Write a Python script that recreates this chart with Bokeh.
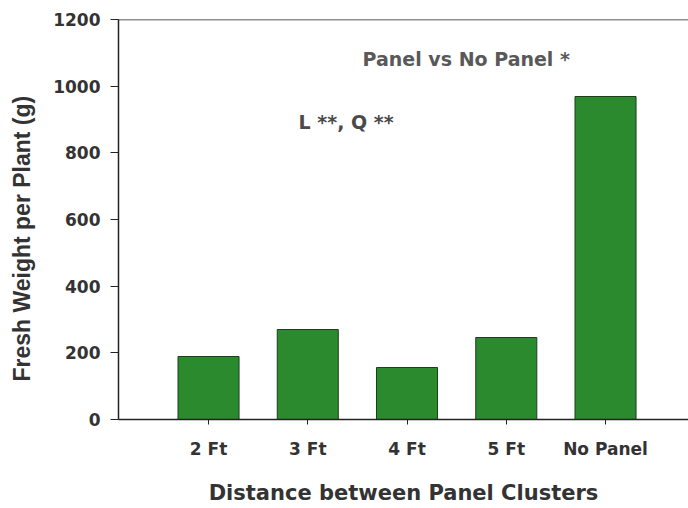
from bokeh.plotting import figure
from bokeh.models import Range1d, FixedTicker, Span, Label
from bokeh.embed import file_html
from bokeh.resources import INLINE

# ---- data ----
categories = ["2 Ft", "3 Ft", "4 Ft", "5 Ft", "No Panel"]
positions = [1, 2, 3, 4, 5]
fresh_weight = [189, 270, 156, 246, 969]
y_ticks = [0, 200, 400, 600, 800, 1000, 1200]
note_top = "Panel vs No Panel *"
note_trend = "L **, Q **"
y_title = "Fresh Weight per Plant (g)"
x_title = "Distance between Panel Clusters"

FONT = "DejaVu Sans"
TXT = "#333333"

p = figure(width=688, height=508, output_backend="svg", toolbar_location=None,
           x_range=Range1d(0.093, 5.836), y_range=Range1d(0, 1200),
           min_border_left=118, min_border_right=0, min_border_top=19, min_border_bottom=89)

p.vbar(x=positions, top=fresh_weight, width=0.615, bottom=0,
       fill_color="#2b8a2d", line_color="#1d3d1d", line_width=1)

p.xgrid.visible = False
p.ygrid.visible = False
p.outline_line_color = None
p.background_fill_color = "white"

# x axis
xa = p.xaxis[0]
xa.ticker = FixedTicker(ticks=positions)
xa.major_label_overrides = {pos: c for pos, c in zip(positions, categories)}
xa.minor_tick_line_color = None
xa.major_tick_in = 0
xa.major_tick_out = 5
xa.axis_line_width = 1.5
xa.axis_line_color = "#222222"
xa.major_tick_line_color = "#222222"
xa.major_label_text_font = FONT
xa.major_label_text_font_style = "bold"
xa.major_label_text_font_size = "17px"
xa.major_label_text_color = TXT
xa.major_label_standoff = 14
xa.axis_label = x_title
xa.axis_label_text_font = FONT
xa.axis_label_text_font_style = "bold"
xa.axis_label_text_font_size = "21px"
xa.axis_label_text_color = TXT
xa.axis_label_standoff = 19

# y axis
ya = p.yaxis[0]
ya.ticker = FixedTicker(ticks=y_ticks)
ya.minor_tick_line_color = None
ya.major_tick_in = 0
ya.major_tick_out = 8
ya.axis_line_width = 1.5
ya.axis_line_color = "#222222"
ya.major_tick_line_color = "#222222"
ya.major_label_text_font = FONT
ya.major_label_text_font_style = "bold"
ya.major_label_text_font_size = "17px"
ya.major_label_text_color = TXT
ya.major_label_standoff = 10
# trailing no-break spaces push the visible title a little lower, as in the reference
ya.axis_label = y_title + "\u00a0" * 6
ya.axis_label_text_font = "Liberation Sans"
ya.axis_label_text_font_style = "bold"
ya.axis_label_text_font_size = "23px"
ya.axis_label_text_color = TXT
ya.axis_label_standoff = 15

# top border line
p.add_layout(Span(location=1200, dimension="width", line_color="#222222", line_width=1.5))

# annotations
p.add_layout(Label(x=2.552, y=1081, text=note_top, text_font=FONT, text_font_style="bold",
                   text_font_size="19px", text_color="#595959", text_baseline="middle"))
p.add_layout(Label(x=1.907, y=892, text=note_trend, text_font=FONT, text_font_style="bold",
                   text_font_size="19px", text_color="#4a4a4a", text_baseline="middle"))

open("out.html", "w").write(file_html(p, INLINE))
